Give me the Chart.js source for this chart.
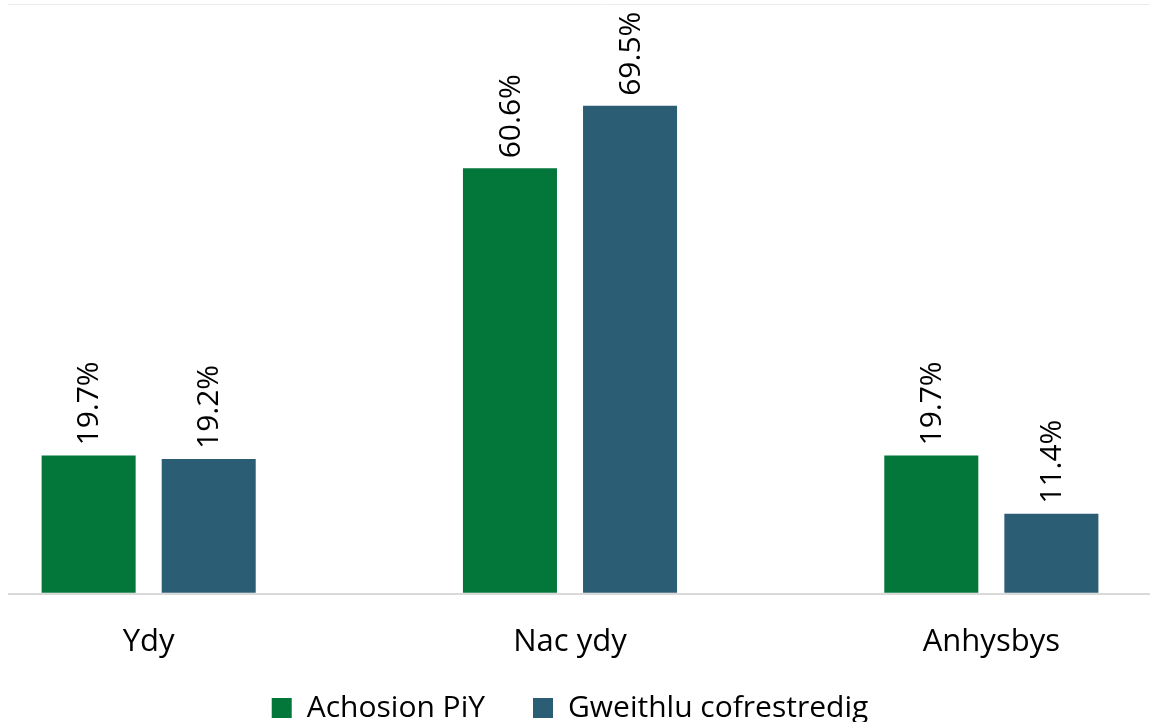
<!DOCTYPE html>
<html>
<head>
<meta charset="utf-8">
<script src="https://cdn.jsdelivr.net/npm/chart.js@4/dist/chart.umd.min.js"></script>
<style>
  html, body { margin: 0; padding: 0; background: #fff; overflow: hidden; }
  #frame { position: relative; width: 1150px; height: 722px; overflow: hidden; }
  #wrap { position: absolute; left: -62px; top: 0; width: 1264px; height: 733px; }
</style>
</head>
<body>
<div id="frame">
  <div id="wrap"><canvas id="chart"></canvas></div>
</div>
<script>
// categories and series
const categories = ["Ydy", "Nac ydy", "Anhysbys"];
const achosion = [19.7, 60.6, 19.7];
const gweithlu = [19.2, 69.5, 11.4];
const seriesNames = ["Achosion PiY", "Gweithlu cofrestredig"];
const yMax = 84;

const FONT = "'Open Sans', sans-serif";
const LEGEND_TRIM = 38;

// draws the rotated value labels above each bar
const valueLabels = {
  id: "valueLabels",
  afterDatasetsDraw(chart) {
    const ctx = chart.ctx;
    chart.data.datasets.forEach((ds, i) => {
      const meta = chart.getDatasetMeta(i);
      meta.data.forEach((bar, j) => {
        ctx.save();
        ctx.translate(bar.x + 1, bar.y - 10);
        ctx.rotate(-Math.PI / 2);
        ctx.font = "30px " + FONT;
        ctx.fillStyle = "#000";
        ctx.textAlign = "left";
        ctx.textBaseline = "middle";
        ctx.fillText(ds.data[j].toFixed(1) + "%", 0, 0);
        ctx.restore();
      });
    });
  }
};

// the legend needs wide gaps between items but little space above it
const legendTrim = {
  id: "legendTrim",
  beforeInit(chart) {
    const legend = chart.legend;
    const fit = legend.fit;
    legend.fit = function () {
      fit.call(this);
      this.height -= LEGEND_TRIM;
    };
    const draw = legend.draw;
    legend.draw = function () {
      this.top -= LEGEND_TRIM;
      this.height += LEGEND_TRIM;
      draw.call(this);
      this.top += LEGEND_TRIM;
      this.height -= LEGEND_TRIM;
    };
  }
};

// hide the part of the grid lines that falls left of the visible plot
const clipLeft = {
  id: "clipLeft",
  beforeDraw(chart) {
    const ctx = chart.ctx;
    ctx.save();
    ctx.beginPath();
    ctx.rect(70, 0, chart.width - 70, chart.height);
    ctx.clip();
  },
  afterDraw(chart) {
    chart.ctx.restore();
  }
};

const data = {
  labels: categories,
  datasets: [
    {
      label: seriesNames[0],
      data: achosion,
      backgroundColor: "#03763A"
    },
    {
      label: seriesNames[1],
      data: gweithlu,
      backgroundColor: "#2B5D75"
    }
  ]
};

const config = {
  type: "bar",
  data: data,
  options: {
    responsive: true,
    maintainAspectRatio: false,
    animation: false,
    categoryPercentage: 0.57,
    barPercentage: 0.783,
    layout: { padding: { top: 4, left: 0, right: 0, bottom: 0 } },
    scales: {
      x: {
        grid: { display: false },
        border: { display: false },
        ticks: { color: "#000", font: { family: FONT, size: 31 }, padding: 22 }
      },
      y: {
        min: 0,
        max: yMax,
        afterBuildTicks: axis => { axis.ticks = [{ value: 0 }, { value: yMax }]; },
        ticks: { display: false },
        border: { display: false },
        grid: {
          drawTicks: false,
          color: c => c.tick.value === 0 ? "#d9d9d9" : "#ececec",
          lineWidth: c => c.tick.value === 0 ? 2 : 1
        }
      }
    },
    plugins: {
      legend: {
        position: "bottom",
        labels: {
          color: "#000",
          font: { family: FONT, size: 30 },
          boxWidth: 20,
          boxHeight: 20,
          padding: 48
        }
      },
      tooltip: { enabled: false }
    }
  },
  plugins: [valueLabels, legendTrim, clipLeft]
};

const myChart = new Chart(document.getElementById("chart"), config);
</script>
</body>
</html>
